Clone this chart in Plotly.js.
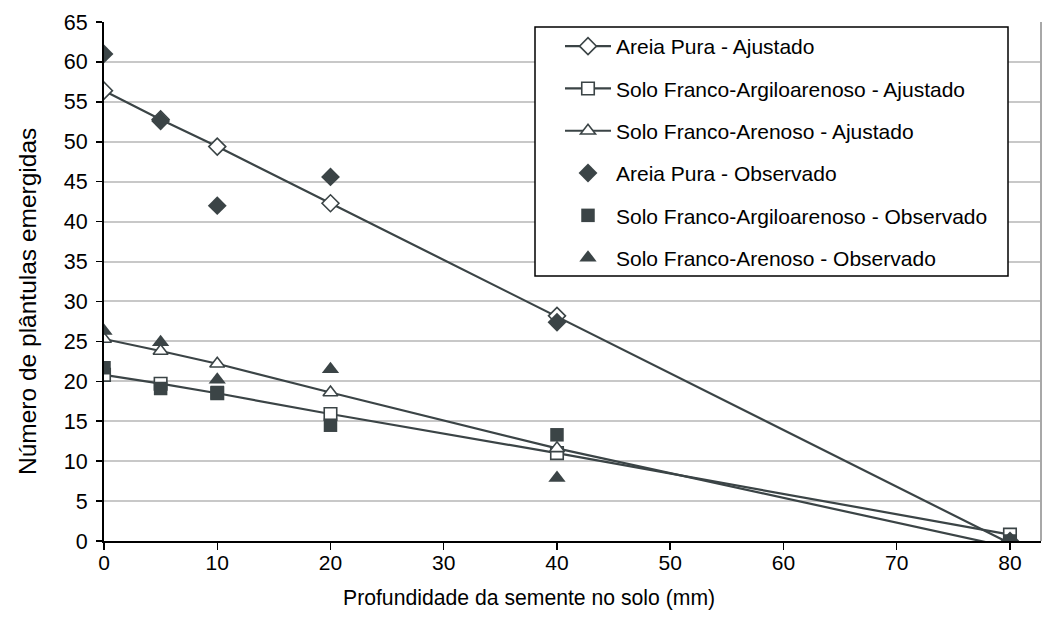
<!DOCTYPE html>
<html>
<head>
<meta charset="utf-8">
<script src="https://cdn.plot.ly/plotly-3.0.1.min.js"></script>
<style>html,body{margin:0;padding:0;background:#fff;}#chart{width:1057px;height:639px;}</style>
</head>
<body>
<div id="chart"></div>
<script>
const depth = [0, 5, 10, 20, 40, 80];

const areiaAjustado = [56.4, 52.8, 49.4, 42.3, 28.2, -0.3];
const argiloAjustado = [20.8, 19.7, 18.5, 15.9, 11.0, 0.8];
const arenosoAjustado = [25.3, 23.8, 22.2, 18.6, 11.6, -0.8];

const areiaObservado = [61.0, 52.6, 42.0, 45.6, 27.4, 0];
const argiloObservado = [21.7, 19.1, 18.6, 14.5, 13.3, 0];
const arenosoObservado = [26.3, 24.9, 20.2, 21.5, 7.9, 0];

const names = [
  'Areia Pura - Ajustado',
  'Solo Franco-Argiloarenoso - Ajustado',
  'Solo Franco-Arenoso - Ajustado',
  'Areia Pura - Observado',
  'Solo Franco-Argiloarenoso - Observado',
  'Solo Franco-Arenoso - Observado'
];
const xTitle = 'Profundidade da semente no solo (mm)';
const yTitle = 'Número de plântulas emergidas';
const xTicks = [0, 10, 20, 30, 40, 50, 60, 70, 80];
const yTicks = [0, 5, 10, 15, 20, 25, 30, 35, 40, 45, 50, 55, 60, 65];

const dark = '#3b4446';
function fitted(y, name, sym, size, g) {
  return {x: depth, y: y, name: name, type: 'scatter', mode: 'lines+markers', legendgroup: g,
    line: {color: dark, width: 2.2},
    marker: {symbol: sym, size: size, color: '#ffffff', line: {color: dark, width: 1.6}}};
}
function observed(y, name, sym, size, g) {
  return {x: depth, y: y, name: name, type: 'scatter', mode: 'markers', legendgroup: g,
    marker: {symbol: sym, size: size, color: dark, line: {color: dark, width: 0}}};
}

const data = [
  fitted(areiaAjustado, names[0], 'diamond', 13, 'g0'),
  fitted(argiloAjustado, names[1], 'square', 12.5, 'g1'),
  fitted(arenosoAjustado, names[2], 'triangle-up', 13, 'g2'),
  observed(areiaObservado, names[3], 'diamond', 14.5, 'g3'),
  observed(argiloObservado, names[4], 'square', 13.5, 'g4'),
  observed(arenosoObservado, names[5], 'triangle-up', 15, 'g5')
];

const fam = 'Arial, "Liberation Sans", sans-serif';
function f(s) { return {family: fam, size: s, color: '#000'}; }

// pixel -> paper helpers
const L = 104, R = 1041, T = 22, B = 541;
const px = v => (v - L) / (R - L);
const py = v => (B - v) / (B - T);

const layout = {
  width: 1057, height: 639,
  margin: {l: L, r: 1057 - R, t: T, b: 639 - B},
  paper_bgcolor: '#fff', plot_bgcolor: '#fff',
  font: f(17),
  showlegend: true,
  legend: {x: px(560), y: py(26), xanchor: 'left', yanchor: 'top',
    borderwidth: 0, bgcolor: 'rgba(0,0,0,0)',
    font: f(21), traceorder: 'grouped', tracegroupgap: 12, itemwidth: 46},
  xaxis: {range: [0, 82.74], tickvals: xTicks, ticktext: xTicks.map(String),
    showgrid: false, zeroline: false, showline: true, linecolor: '#000', linewidth: 2,
    ticks: 'outside', ticklen: 7, tickwidth: 1.5, tickcolor: '#000',
    tickfont: f(21), ticklabelstandoff: -5},
  yaxis: {range: [0, 65], tickvals: yTicks, ticktext: yTicks.map(String),
    showgrid: true, gridcolor: '#c8c8c8', gridwidth: 2, zeroline: false,
    showline: true, linecolor: '#000', linewidth: 2,
    ticks: 'outside', ticklen: 6, tickwidth: 1.5, tickcolor: '#000',
    tickfont: f(21.5), ticklabelstandoff: 4},
  annotations: [
    {text: xTitle, xref: 'paper', yref: 'paper', x: px(529), y: py(598),
     xanchor: 'center', yanchor: 'middle', showarrow: false, font: f(21.2)},
    {text: yTitle, xref: 'paper', yref: 'paper', x: px(27), y: py(302),
     xanchor: 'center', yanchor: 'middle', showarrow: false, textangle: -90, font: f(24.5)}
  ],
  shapes: [
    {type: 'line', xref: 'paper', yref: 'paper', x0: 1, x1: 1, y0: 0, y1: 1,
     line: {color: '#a8a8a8', width: 2}},
    {type: 'rect', xref: 'paper', yref: 'paper', layer: 'above',
     x0: px(535), x1: px(1008), y0: py(276), y1: py(27),
     fillcolor: '#ffffff', line: {color: '#000', width: 1.5}}
  ]
};

Plotly.newPlot('chart', data, layout, {displayModeBar: false, staticPlot: true});
</script>
</body>
</html>
